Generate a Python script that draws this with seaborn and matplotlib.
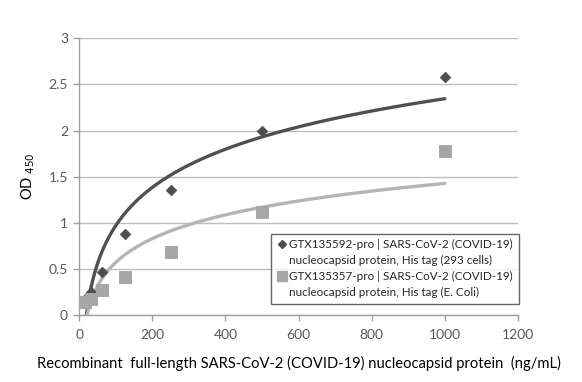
import numpy as np
import pandas as pd
import matplotlib
matplotlib.use('Agg')
import matplotlib.pyplot as plt
from matplotlib.lines import Line2D
import seaborn as sns

# concentrations (ng/mL)
conc = [15.625, 31.25, 62.5, 125, 250, 500, 1000]
od_293 = [0.18, 0.25, 0.47, 0.88, 1.36, 2.00, 2.58]
od_ecoli = [0.14, 0.18, 0.27, 0.41, 0.68, 1.12, 1.78]

label_293 = ['GTX135592-pro | SARS-CoV-2 (COVID-19)', 'nucleocapsid protein, His tag (293 cells)']
label_ecoli = ['GTX135357-pro | SARS-CoV-2 (COVID-19)', 'nucleocapsid protein, His tag (E. Coli)']

sns.set_style('white')
plt.rcParams['font.family'] = ['Lato', 'DejaVu Sans']

fig = plt.figure(figsize=(5.82, 3.82), dpi=100)
ax = fig.add_axes([0.136, 0.175, 0.754, 0.725])

dark = '#4d4d4d'
light = '#a6a6a6'

# logarithmic trendlines (as Excel does)
xs = np.linspace(min(conc), max(conc), 400)
for ys, col in [(od_293, '#505050'), (od_ecoli, '#b4b4b4')]:
    a, b = np.polyfit(np.log(conc), ys, 1)
    fit = pd.DataFrame({'x': xs, 'y': a * np.log(xs) + b})
    sns.lineplot(data=fit, x='x', y='y', color=col, lw=2.4, ax=ax, zorder=3)

df = pd.DataFrame({'conc': conc, 'a': od_293, 'b': od_ecoli})
sns.scatterplot(data=df, x='conc', y='a', marker='D', s=30, color=dark,
                edgecolor=dark, ax=ax, zorder=4)
sns.scatterplot(data=df, x='conc', y='b', marker='s', s=70, color=light,
                edgecolor=light, ax=ax, zorder=4)

ax.set_xlim(0, 1200)
ax.set_ylim(0, 3)
ax.set_xticks(range(0, 1201, 200))
ax.set_yticks([0, 0.5, 1, 1.5, 2, 2.5, 3])
ax.set_yticklabels(['0', '0.5', '1', '1.5', '2', '2.5', '3'])
ax.yaxis.grid(True, color='#bebebe', lw=1)
ax.xaxis.grid(False)
for s in ['top', 'right']:
    ax.spines[s].set_visible(False)
for s in ['left', 'bottom']:
    ax.spines[s].set_color('#a0a0a0')
    ax.spines[s].set_linewidth(1)
ax.tick_params(axis='both', colors='#a0a0a0', labelcolor='#595959',
               labelsize=10, length=4, width=1, direction='out')
ax.tick_params(axis='x', bottom=True, pad=6)
ax.tick_params(axis='y', left=True, pad=4)

ax.set_xlabel('Recombinant  full-length SARS-CoV-2 (COVID-19) nucleocapsid protein  (ng/mL)',
              fontsize=10.6, color='black', labelpad=11)
ax.set_ylabel(r'OD $_{450}$', fontsize=10.5, color='black', labelpad=8)

blank = Line2D([], [], linestyle='none')
handles = [
    Line2D([], [], linestyle='none', marker='D', markersize=4.5, color=dark),
    blank,
    Line2D([], [], linestyle='none', marker='s', markersize=6.5, color=light),
    blank,
]
labels = label_293 + label_ecoli
leg = ax.legend(handles, labels, loc='lower right', bbox_to_anchor=(1.002, 0.04),
                fontsize=8.4, frameon=True, fancybox=False, edgecolor='#404040',
                handletextpad=0.15, borderpad=0.5, labelspacing=0.42,
                handlelength=0.9, borderaxespad=0)
leg.get_frame().set_linewidth(1)

fig.savefig('out.png', dpi=100)
